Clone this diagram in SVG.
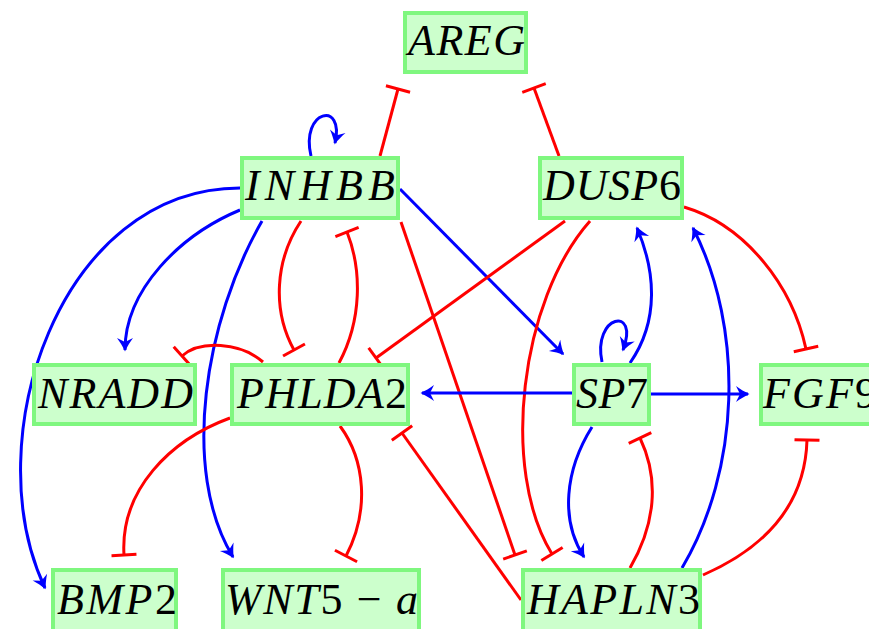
<svg xmlns="http://www.w3.org/2000/svg" width="869" height="629" viewBox="0 0 869 629">
<defs>
<style>
.node rect{fill:#ccffcc;stroke:#7ff77f;stroke-width:4}
.node text{font-family:"Liberation Serif","DejaVu Serif",serif;font-size:44px;font-style:italic;fill:#000}
.up{font-style:normal}
.act{fill:none;stroke:#0000ff;stroke-width:3;marker-end:url(#arrow)}
.inh{fill:none;stroke:#ff0000;stroke-width:3;marker-end:url(#tee)}
</style>
<marker id="arrow" viewBox="-14 -9 16 18" refX="0" refY="0" markerWidth="16" markerHeight="18" markerUnits="userSpaceOnUse" orient="auto">
<path d="M1.5,0 C-3,-2 -8,-5 -12,-8 L-8,0 L-12,8 C-8,5 -3,2 1.5,0 Z" fill="#0000ff"/>
</marker>
<marker id="tee" viewBox="-2 -14 4 28" refX="0" refY="0" markerWidth="4" markerHeight="28" markerUnits="userSpaceOnUse" orient="auto">
<path d="M0,-12.5 L0,12.5" stroke="#ff0000" stroke-width="3"/>
</marker>
</defs>
<g id="edges">
<path class="inh" d="M380,156 L398,89"/>
<path class="inh" d="M559,156 L534,88"/>
<path class="act" d="M311,156 C300,110 345,100 335,143"/>
<path class="act" d="M240,188 C60,188 -25,440 45,588"/>
<path class="act" d="M240,210 C180,235 125,290 125,350"/>
<path class="act" d="M262,221 C205,320 180,470 233,557"/>
<path class="inh" d="M301,221 C275,260 272,310 294,350"/>
<path class="inh" d="M339,363 C362,320 362,270 347,232"/>
<path class="act" d="M400,189 L563,354"/>
<path class="inh" d="M401,222 L515,555"/>
<path class="inh" d="M565,221 L376,358"/>
<path class="inh" d="M590,221 C520,300 500,470 552,554"/>
<path class="inh" d="M684,207 C745,225 792,285 806,349"/>
<path class="act" d="M630,363 C660,320 655,270 637,228"/>
<path class="act" d="M682,568 C740,470 745,330 693,228"/>
<path class="act" d="M602,362 C592,315 640,305 623,350"/>
<path class="act" d="M572,393 L422,393"/>
<path class="act" d="M651,394 L748,394"/>
<path class="act" d="M592,427 C565,470 560,520 584,557"/>
<path class="inh" d="M630,568 C655,525 660,480 640,438"/>
<path class="inh" d="M703,575 C760,550 805,510 807,440"/>
<path class="inh" d="M521,600 L402,433"/>
<path class="inh" d="M263,362 C240,342 200,340 182,356"/>
<path class="inh" d="M230,418 C170,440 120,490 124,555"/>
<path class="inh" d="M340,426 C365,460 370,510 346,556"/>
</g>
<g id="AREG" class="node"><rect x="405" y="13" width="121" height="59"/><text x="408" y="55" textLength="117" lengthAdjust="spacing">AREG</text></g>
<g id="INHBB" class="node"><rect x="242" y="158" width="156" height="60"/><text x="245" y="200" textLength="150" lengthAdjust="spacing">INHBB</text></g>
<g id="DUSP6" class="node"><rect x="540" y="158" width="142" height="60"/><text x="543" y="200" textLength="138" lengthAdjust="spacing">DUSP<tspan class="up">6</tspan></text></g>
<g id="NRADD" class="node"><rect x="34" y="365" width="161" height="59"/><text x="38" y="408" textLength="155" lengthAdjust="spacing">NRADD</text></g>
<g id="PHLDA2" class="node"><rect x="232" y="365" width="176" height="59"/><text x="237" y="408" textLength="170" lengthAdjust="spacing">PHLDA<tspan class="up">2</tspan></text></g>
<g id="SP7" class="node"><rect x="574" y="365" width="75" height="59"/><text x="576" y="408" textLength="72" lengthAdjust="spacing">SP<tspan class="up">7</tspan></text></g>
<g id="FGF9" class="node"><rect x="761" y="365" width="140" height="59"/><text x="763" y="408" textLength="114" lengthAdjust="spacing">FGF<tspan class="up">9</tspan></text></g>
<g id="BMP2" class="node"><rect x="53" y="570" width="123" height="62"/><text x="57" y="614" textLength="120" lengthAdjust="spacing">BMP<tspan class="up">2</tspan></text></g>
<g id="WNT5-a" class="node"><rect x="223" y="570" width="196" height="62"/><text x="225" y="614" textLength="193" lengthAdjust="spacing">WNT<tspan class="up">5 − </tspan>a</text></g>
<g id="HAPLN3" class="node"><rect x="523" y="570" width="177" height="62"/><text x="527" y="614" textLength="173" lengthAdjust="spacing">HAPLN<tspan class="up">3</tspan></text></g>
</svg>
